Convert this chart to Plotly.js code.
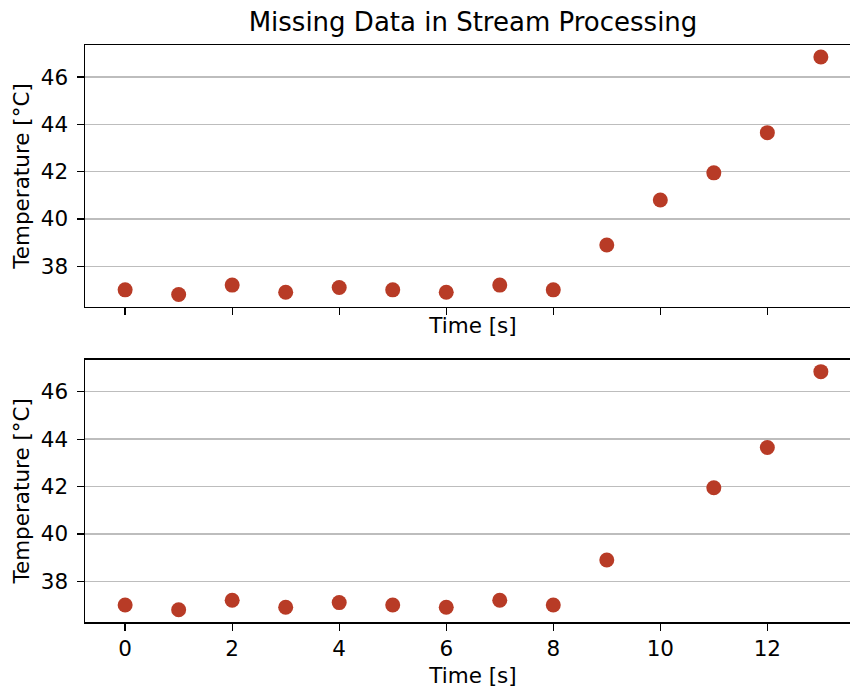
<!DOCTYPE html>
<html>
<head>
<meta charset="utf-8">
<script src="https://cdn.plot.ly/plotly-3.0.1.min.js"></script>
<style>html,body{margin:0;padding:0;overflow:hidden;background:#fff;}</style>
</head>
<body>
<div id="chart"></div>
<script>
// Data
const timeFull = [0, 1, 2, 3, 4, 5, 6, 7, 8, 9, 10, 11, 12, 13];
const tempFull = [37.0, 36.8, 37.2, 36.9, 37.1, 37.0, 36.9, 37.2, 37.0, 38.9, 40.8, 41.95, 43.65, 46.85];
const timeMissing = [0, 1, 2, 3, 4, 5, 6, 7, 8, 9, 11, 12, 13];
const tempMissing = [37.0, 36.8, 37.2, 36.9, 37.1, 37.0, 36.9, 37.2, 37.0, 38.9, 41.95, 43.65, 46.85];
const xTicks = [0, 2, 4, 6, 8, 10, 12];
const yTicks = [38, 40, 42, 44, 46];

const titleText = "Missing Data in Stream Processing";
const xLabel = "Time [s]";
const yLabel = "Temperature [°C]";

const markerColor = "#b83b26";
const FONT = "DejaVu Sans, sans-serif";
const FS = 21.5;

const traces = [
  {x: timeFull, y: tempFull, type: "scatter", mode: "markers",
   marker: {color: markerColor, size: 15}, xaxis: "x", yaxis: "y", showlegend: false},
  {x: timeMissing, y: tempMissing, type: "scatter", mode: "markers",
   marker: {color: markerColor, size: 15}, xaxis: "x2", yaxis: "y2", showlegend: false}
];

const xCommon = {
  range: [-0.75, 13.75], tickvals: xTicks, ticks: "outside", ticklen: 7, tickwidth: 1.3,
  tickcolor: "#000", showline: true, linecolor: "#000", linewidth: 1.5, mirror: true,
  showgrid: false, zeroline: false, tickfont: {family: FONT, size: FS, color: "#000"}
};
const yCommon = {
  range: [36.28, 47.36], tickvals: yTicks, ticks: "outside", ticklen: 7, tickwidth: 1.3,
  tickcolor: "#000", showline: true, linecolor: "#000", linewidth: 1.5, mirror: true,
  showgrid: true, gridcolor: "#bdbdbd", gridwidth: 1.4, zeroline: false,
  tickfont: {family: FONT, size: FS, color: "#000"}, ticklabelstandoff: 4,
  title: {text: yLabel, font: {family: FONT, size: FS, color: "#000"}, standoff: 5}
};

const layout = {
  width: 862, height: 689,
  margin: {l: 85, r: 1, t: 44.5, b: 66.7},
  paper_bgcolor: "#fff", plot_bgcolor: "#fff",
  title: {text: titleText, font: {family: FONT, size: 26, color: "#000"},
          x: 0.5, xref: "paper", y: 1 - 22/689, yref: "container", yanchor: "middle"},
  xaxis: Object.assign({}, xCommon, {anchor: "y", domain: [0, 1], matches: "x2", showticklabels: false,
          title: {text: xLabel, font: {family: FONT, size: FS, color: "#000"}, standoff: 3}}),
  yaxis: Object.assign({}, yCommon, {anchor: "x", domain: [0.5462, 1]}),
  xaxis2: Object.assign({}, xCommon, {anchor: "y2", domain: [0, 1],
          title: {text: xLabel, font: {family: FONT, size: FS, color: "#000"}, standoff: 7}}),
  yaxis2: Object.assign({}, yCommon, {anchor: "x2", domain: [0, 0.4548]})
};

Plotly.newPlot("chart", traces, layout, {displayModeBar: false, staticPlot: true});
</script>
</body>
</html>
